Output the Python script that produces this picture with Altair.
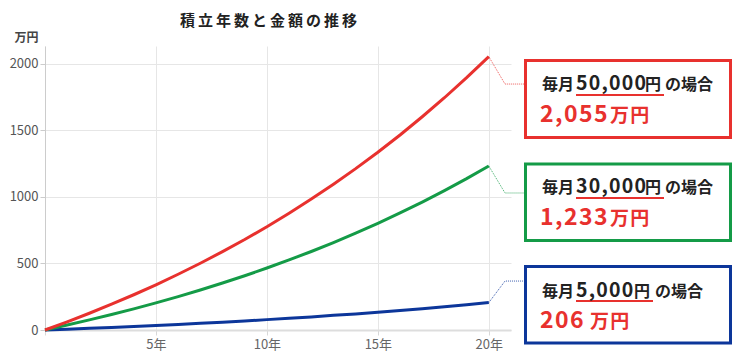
import altair as alt
import pandas as pd

FONT = "Noto Sans CJK JP"

# ---- data ----
years = list(range(21))
red_vals = [0, 61, 126, 194, 265, 340, 419, 502, 589, 680, 776, 878, 984, 1096, 1213, 1336, 1466, 1603, 1746, 1897, 2055]
green_vals = [0, 37, 76, 116, 159, 204, 251, 301, 353, 408, 466, 527, 590, 657, 728, 802, 880, 962, 1048, 1138, 1233]
blue_vals = [0, 6, 13, 19, 27, 34, 42, 50, 59, 68, 78, 88, 98, 110, 121, 134, 147, 160, 175, 190, 206]

series = ["5,000", "30,000", "50,000"]          # monthly amount (yen)
series_vals = [blue_vals, green_vals, red_vals]
colors = ["#0c369a", "#149b47", "#e8312e"]
x_ticks = [0, 5, 10, 15, 20]
y_ticks = [0, 500, 1000, 1500, 2000]
title = "積立年数と金額の推移"
unit = "万円"

rows = []
for s, vals in zip(series, series_vals):
    for yr, v in zip(years, vals):
        rows.append({"series": s, "year": yr, "value": v})
df = pd.DataFrame(rows)

# ---- annotation layout ----
bend_x = 20.73
box_x = 21.59
bend_y = [368, 1030, 1849]
box_y1 = [220.5, 118, 14.5]
box_y2 = [297, 194.5, 91.5]
line1_y = [250.5, 147, 44]
line2_y = [282, 179, 76]
under_y = [255, 152, 49]
x_maigetsu = [497, 497, 497]
x_amount = [531, 531, 531]
x_en = [589, 600, 600]
x_noba = [610, 620, 620]
x_under_end = [608, 619, 619]
x_total = [495, 495, 495]
x_manen = [545, 565, 565]

RED_TXT = "#e8312e"
DARK = "#222222"
HS = "\u200a"

crows = []
for s, vals, by in zip(series, series_vals, bend_y):
    crows += [
        {"series": s, "year": years[-1], "value": vals[-1], "k": 0},
        {"series": s, "year": bend_x, "value": by, "k": 1},
        {"series": s, "year": box_x, "value": by, "k": 2},
    ]
conn = pd.DataFrame(crows)

boxes = pd.DataFrame({"series": series, "c": colors, "x1": [480.5] * 3, "x2": [685.5] * 3,
                      "y1": box_y1, "y2": box_y2})

trows = []
for i, s in enumerate(series):
    total = f"{series_vals[i][-1]:,}"
    trows += [
        {"t": "毎月", "px": x_maigetsu[i], "py": line1_y[i], "fs": 16, "c": DARK},
        {"t": HS.join(s), "px": x_amount[i], "py": line1_y[i], "fs": 19.5, "c": DARK},
        {"t": "円", "px": x_en[i], "py": line1_y[i], "fs": 16, "c": DARK},
        {"t": "の場合", "px": x_noba[i], "py": line1_y[i], "fs": 16, "c": DARK},
        {"t": HS.join(total), "px": x_total[i], "py": line2_y[i], "fs": 23, "c": RED_TXT},
        {"t": HS.join(unit), "px": x_manen[i], "py": line2_y[i], "fs": 19, "c": RED_TXT},
    ]
texts = pd.DataFrame(trows)
unders = pd.DataFrame({"ux1": x_amount, "ux2": x_under_end, "uy": under_y})

xscale = alt.Scale(domain=[0, 21], nice=False, zero=False)
yscale = alt.Scale(domain=[0, 2135], nice=False)
cscale = alt.Scale(domain=series, range=colors)

xaxis = alt.Axis(values=x_ticks, labelExpr="datum.value == 0 ? '' : datum.value + '年'",
                 grid=True, gridColor="#e6e6e6", domain=True, domainColor="#dddddd", domainWidth=2,
                 ticks=True, tickColor="#d8d8d8", tickSize=5, labelColor="#666666", labelFont=FONT,
                 labelFontSize=13, labelPadding=3, title=None)
yaxis = alt.Axis(values=y_ticks, format="d", grid=True, gridColor="#e6e6e6", domain=True,
                 domainColor="#cccccc", ticks=True, tickColor="#cccccc", tickSize=5, labelPadding=2,
                 labelColor="#555555", labelFont=FONT, labelFontSize=13, title=unit, titleAngle=0,
                 titleAlign="right", titleBaseline="middle", titleX=-7, titleY=-9, titleFont=FONT,
                 titleFontSize=12, titleColor="#444444", titleFontWeight="bold")

X = alt.X("year:Q", scale=xscale, axis=xaxis, title=None)
Y = alt.Y("value:Q", scale=yscale, axis=yaxis, title=unit)
C = alt.Color("series:N", scale=cscale, legend=None)

lines = alt.Chart(df).mark_line(strokeWidth=3).encode(x=X, y=Y, color=C)

connectors = alt.Chart(conn).mark_line(strokeWidth=1, strokeDash=[1, 1], opacity=0.8).encode(
    x=X, y=Y, color=C, order="k:Q")

rects = alt.Chart(boxes).mark_rect(fill="white", strokeWidth=3).encode(
    x=alt.X("x1:Q", scale=None), x2="x2:Q",
    y=alt.Y("y1:Q", scale=None), y2="y2:Q",
    stroke=alt.Stroke("c:N", scale=None, legend=None))

txt = alt.Chart(texts).mark_text(align="left", baseline="alphabetic", font=FONT, fontWeight="bold").encode(
    x=alt.X("px:Q", scale=None), y=alt.Y("py:Q", scale=None),
    text="t:N", size=alt.Size("fs:Q", scale=None, legend=None),
    color=alt.Color("c:N", scale=None, legend=None))

und = alt.Chart(unders).mark_rule(strokeWidth=2, color=RED_TXT).encode(
    x=alt.X("ux1:Q", scale=None), x2="ux2:Q",
    y=alt.Y("uy:Q", scale=None))

ttl = alt.Chart(pd.DataFrame({"t": ["\u2009".join(title)]})).mark_text(
    font=FONT, fontWeight="bold", fontSize=15, color="#222222", align="center", baseline="alphabetic"
).encode(x=alt.value(223.5), y=alt.value(-20), text="t:N")

chart = alt.layer(lines, connectors, rects, und, txt, ttl).properties(
    width=466, height=284,
    padding={"left": 37, "top": 38, "right": 222, "bottom": 22},
    autosize=alt.AutoSizeParams(type="none"),
).configure_view(stroke=None)

chart.save("out.html", embed_options={"renderer": "svg", "actions": False})
